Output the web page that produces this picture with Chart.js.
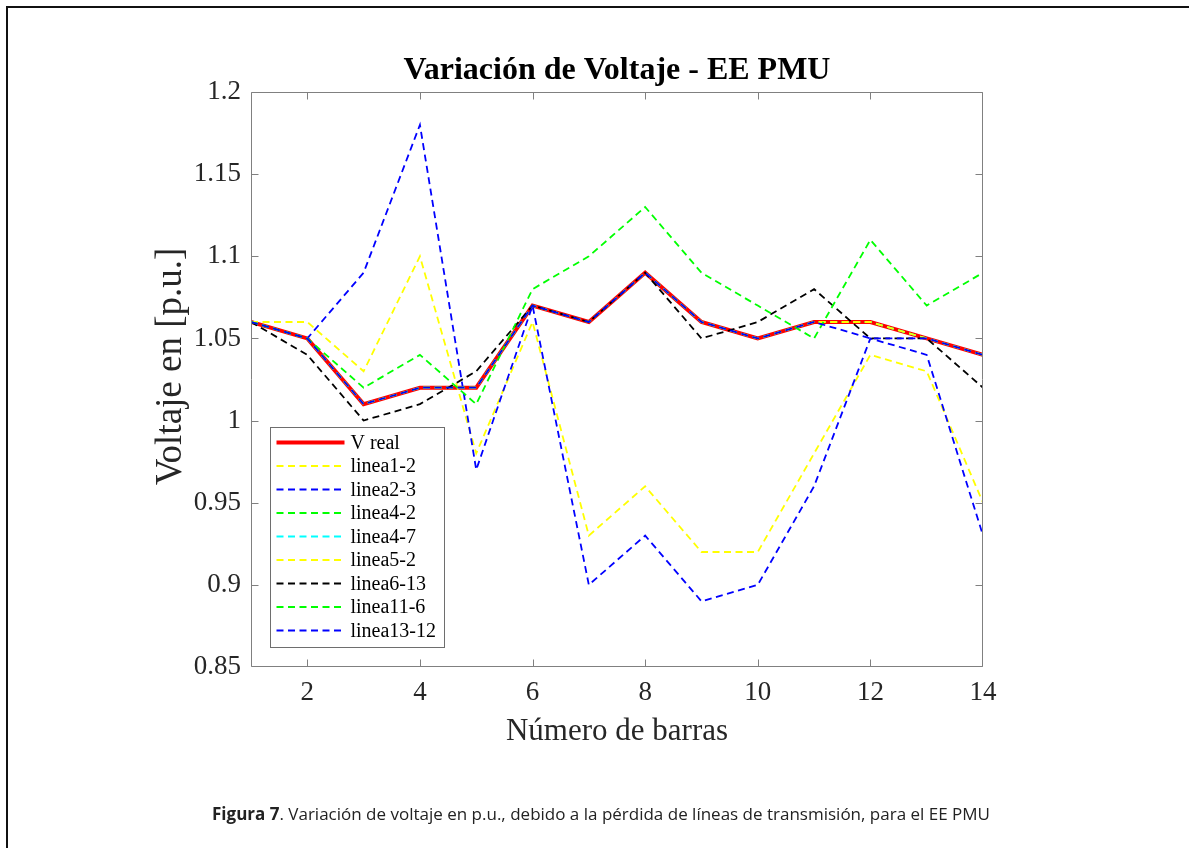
<!DOCTYPE html>
<html>
<head>
<meta charset="utf-8">
<script src="https://cdn.jsdelivr.net/npm/chart.js@4.4.1/dist/chart.umd.min.js"></script>
<style>
  html, body { margin: 0; padding: 0; background: #fff; }
  #wrap { position: relative; width: 1189px; height: 848px; overflow: hidden; background: #fff; }
  #frame { position: absolute; left: 6px; top: 6px; right: -10px; bottom: -10px;
           border-left: 2px solid #111; border-top: 2px solid #111; }
  #c { position: absolute; left: 0; top: 0; }
  #caption { position: absolute; left: 0; width: 1202px; top: 802px; text-align: center; white-space: nowrap;
             font-family: 'Open Sans', 'Noto Sans', sans-serif; font-size: 17px; color: #222; }
  #caption b { font-weight: 700; }
</style>
</head>
<body>
<div id="wrap">
  <div id="frame"></div>
  <canvas id="c" width="1189" height="848"></canvas>
  <div id="caption"><b>Figura 7</b>. Variación de voltaje en p.u., debido a la pérdida de líneas de transmisión, para el EE PMU</div>
</div>
<script>
// Bus numbers (x axis)
const buses = [1, 2, 3, 4, 5, 6, 7, 8, 9, 10, 11, 12, 13, 14];

// Bus voltages in p.u. for the base case and for each line outage
const vReal      = [1.06, 1.05, 1.01, 1.02, 1.02, 1.07, 1.06, 1.09, 1.06, 1.05, 1.06, 1.06, 1.05, 1.04];
const linea1_2   = [1.06, 1.06, 1.03, 1.10, 0.98, 1.06, 0.93, 0.96, 0.92, 0.92, 0.98, 1.04, 1.03, 0.95];
const linea2_3   = [1.06, 1.05, 1.09, 1.18, 0.97, 1.07, 0.90, 0.93, 0.89, 0.90, 0.96, 1.05, 1.04, 0.93];
const linea4_2   = [1.06, 1.05, 1.01, 1.02, 1.02, 1.07, 1.06, 1.09, 1.06, 1.05, 1.06, 1.06, 1.05, 1.04];
const linea4_7   = [1.06, 1.05, 1.01, 1.02, 1.02, 1.07, 1.06, 1.09, 1.06, 1.05, 1.06, 1.06, 1.05, 1.04];
const linea5_2   = [1.06, 1.05, 1.01, 1.02, 1.02, 1.07, 1.06, 1.09, 1.06, 1.05, 1.06, 1.06, 1.05, 1.04];
const linea6_13  = [1.06, 1.04, 1.00, 1.01, 1.03, 1.07, 1.06, 1.09, 1.05, 1.06, 1.08, 1.05, 1.05, 1.02];
const linea11_6  = [1.06, 1.05, 1.02, 1.04, 1.01, 1.08, 1.10, 1.13, 1.09, 1.07, 1.05, 1.11, 1.07, 1.09];
const linea13_12 = [1.06, 1.05, 1.01, 1.02, 1.02, 1.07, 1.06, 1.09, 1.06, 1.05, 1.06, 1.05, 1.05, 1.04];

const seriesNames  = ['V real', 'linea1-2', 'linea2-3', 'linea4-2', 'linea4-7', 'linea5-2', 'linea6-13', 'linea11-6', 'linea13-12'];
const seriesValues = [vReal, linea1_2, linea2_3, linea4_2, linea4_7, linea5_2, linea6_13, linea11_6, linea13_12];
const seriesColors = ['#ff0000', '#ffff00', '#0000ff', '#00ff00', '#00ffff', '#ffff00', '#000000', '#00ff00', '#0000ff'];

// Axis ticks
const xTicks = [2, 4, 6, 8, 10, 12, 14];
const xTickLabels = ['2', '4', '6', '8', '10', '12', '14'];
const yTicks = [0.85, 0.9, 0.95, 1, 1.05, 1.1, 1.15, 1.2];
const yTickLabels = ['0.85', '0.9', '0.95', '1', '1.05', '1.1', '1.15', '1.2'];

const SERIF = "'Liberation Serif', 'Times New Roman', serif";
const AXIS_GRAY = '#808080';
const TEXT_DARK = '#262626';
const DASH = [7, 4.5];

const datasets = seriesNames.map((name, i) => ({
  label: name,
  data: buses.map((b, k) => ({ x: b, y: seriesValues[i][k] })),
  borderColor: seriesColors[i],
  backgroundColor: seriesColors[i],
  borderWidth: i === 0 ? 4 : 1.8,
  borderDash: i === 0 ? [] : DASH,
  pointRadius: 0,
  tension: 0,
  fill: false,
  order: -i            // later series are painted on top
}));

// Box around the plot area with inward tick marks on all four sides
const axesFrame = {
  id: 'axesFrame',
  afterDatasetsDraw(chart) {
    const { ctx, chartArea: a, scales: { x, y } } = chart;
    const L = 7;
    ctx.save();
    ctx.strokeStyle = AXIS_GRAY;
    ctx.lineWidth = 1;
    ctx.beginPath();
    const l = Math.round(a.left) + 0.5, r = Math.round(a.right) - 0.5;
    const t = Math.round(a.top) + 0.5, b = Math.round(a.bottom) - 0.5;
    ctx.rect(l, t, r - l, b - t);
    xTicks.forEach(v => {
      const px = Math.min(Math.round(x.getPixelForValue(v)) + 0.5, r);
      ctx.moveTo(px, b); ctx.lineTo(px, b - L);
      ctx.moveTo(px, t); ctx.lineTo(px, t + L);
    });
    yTicks.forEach(v => {
      const py = Math.max(Math.min(Math.round(y.getPixelForValue(v)) + 0.5, b), t);
      ctx.moveTo(l, py); ctx.lineTo(l + L, py);
      ctx.moveTo(r, py); ctx.lineTo(r - L, py);
    });
    ctx.stroke();
    ctx.restore();
  }
};

// Title centred over the plot area and the rotated y-axis label
const plotTexts = {
  id: 'plotTexts',
  afterDraw(chart) {
    const { ctx, chartArea: a } = chart;
    ctx.save();
    ctx.font = "bold 32px " + SERIF;
    ctx.fillStyle = '#000';
    ctx.textAlign = 'center';
    ctx.textBaseline = 'alphabetic';
    ctx.fillText('Variación de Voltaje - EE PMU', (a.left + a.right) / 2, a.top - 13);
    ctx.restore();

    ctx.save();
    ctx.translate(a.left - 80, (a.top + a.bottom) / 2 - 13);
    ctx.rotate(-Math.PI / 2);
    ctx.font = "37px " + SERIF;
    ctx.fillStyle = TEXT_DARK;
    ctx.textAlign = 'center';
    ctx.textBaseline = 'middle';
    ctx.fillText('Voltaje en [p.u.]', 0, 0);
    ctx.restore();
  }
};

// Boxed legend in the lower-left corner of the plot area
const boxLegend = {
  id: 'boxLegend',
  afterDatasetsDraw(chart) {
    const { ctx, chartArea: a } = chart;
    const rowH = 23.5, w = 174, h = 220;
    const x0 = a.left + 18.5, y0 = a.bottom - 20 - h;
    ctx.save();
    ctx.fillStyle = '#fff';
    ctx.fillRect(x0, y0, w, h);
    ctx.strokeStyle = '#6e6e6e';
    ctx.lineWidth = 1;
    ctx.strokeRect(Math.round(x0) + 0.5, Math.round(y0) + 0.5, w, h);
    ctx.font = "20px " + SERIF;
    ctx.textBaseline = 'middle';
    ctx.textAlign = 'left';
    chart.data.datasets.forEach((ds, i) => {
      const cy = y0 + 15.5 + i * rowH;
      ctx.beginPath();
      ctx.strokeStyle = ds.borderColor;
      ctx.lineWidth = ds.borderWidth;
      ctx.setLineDash(ds.borderDash);
      ctx.moveTo(x0 + 7, cy);
      ctx.lineTo(x0 + 75, cy);
      ctx.stroke();
      ctx.setLineDash([]);
      ctx.fillStyle = '#000';
      ctx.fillText(ds.label, x0 + 81, cy + 1);
    });
    ctx.restore();
  }
};

new Chart(document.getElementById('c'), {
  type: 'line',
  data: { datasets },
  options: {
    responsive: false,
    animation: false,
    devicePixelRatio: 1,
    layout: { padding: { left: 0, right: 206, top: 92, bottom: 0 } },
    plugins: {
      legend: { display: false },
      title: { display: false },
      tooltip: { enabled: false }
    },
    scales: {
      x: {
        type: 'linear',
        min: 1,
        max: 14,
        afterBuildTicks: s => { s.ticks = xTicks.map(v => ({ value: v })); },
        afterFit: s => { s.height = 181; },
        grid: { display: false, drawTicks: false },
        border: { display: false },
        ticks: {
          autoSkip: false,
          maxRotation: 0,
          padding: 10,
          color: TEXT_DARK,
          font: { family: SERIF, size: 27 },
          callback: v => xTickLabels[xTicks.indexOf(v)]
        },
        title: {
          display: true,
          text: 'Número de barras',
          color: TEXT_DARK,
          font: { family: SERIF, size: 31 },
          padding: { top: 0, bottom: 98 }
        }
      },
      y: {
        type: 'linear',
        min: 0.85,
        max: 1.2,
        afterBuildTicks: s => { s.ticks = yTicks.map(v => ({ value: v })); },
        afterFit: s => { s.width = 251; },
        grid: { display: false, drawTicks: false },
        border: { display: false },
        ticks: {
          autoSkip: false,
          padding: 10,
          color: TEXT_DARK,
          font: { family: SERIF, size: 27 },
          callback: v => yTickLabels[yTicks.indexOf(v)]
        },
        title: { display: false }
      }
    }
  },
  plugins: [axesFrame, boxLegend, plotTexts]
});
</script>
</body>
</html>
